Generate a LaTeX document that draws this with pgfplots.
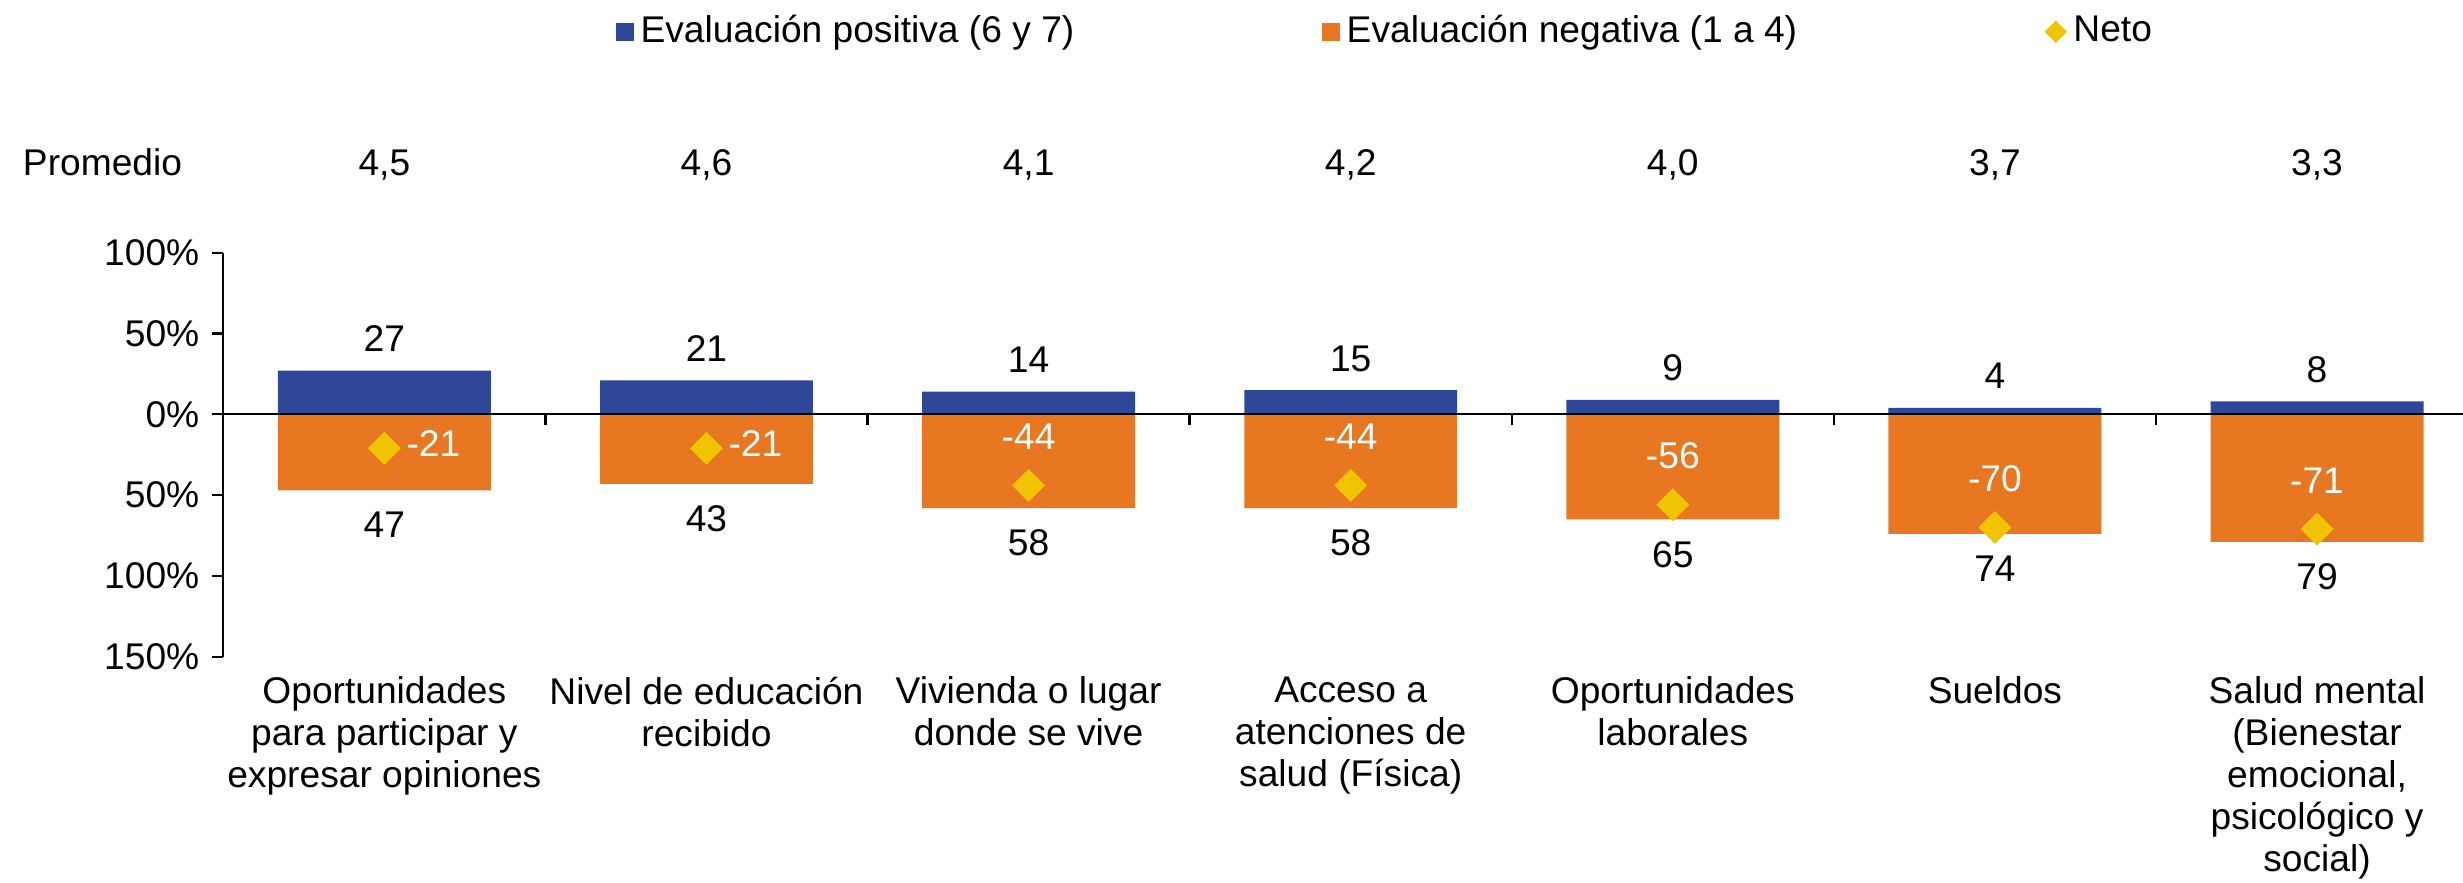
\documentclass[border=0pt]{standalone}
\usepackage{fontspec}
\setmainfont{Liberation Sans}
\usepackage{pgfplots}
\usepackage{pgfplotstable}
\pgfplotsset{compat=1.18}

\definecolor{posblue}{RGB}{47,71,153}
\definecolor{negorange}{RGB}{232,119,34}
\definecolor{netoyellow}{RGB}{240,196,0}

% category, positive share, negative share, net, offsets of the net label
\pgfplotstableread{
x pos neg neto lx ly
0 27 47 -21 14.7 1.5
1 21 43 -21 14.7 1.5
2 14 58 -44 0 14.6
3 15 58 -44 0 14.6
4 9 65 -56 0 14.6
5 4 74 -70 0 14.6
6 8 79 -71 0 14.6
}\datos

\begin{document}
\fontsize{11.15}{12.6}\selectfont
\begin{tikzpicture}
\path[use as bounding box] (0pt,0pt) rectangle (738.9pt,264.9pt);
\begin{axis}[
    at={(66.99pt,67.89pt)}, anchor=south west,
    scale only axis,
    width=671.9pt, height=121.2pt,
    xmin=-0.5, xmax=6.453,
    ymin=-150, ymax=100,
    axis x line=middle, axis y line=left,
    axis line style={-, line width=0.7pt},
    axis on top,
    xtick={-0.5,0.5,...,5.5}, xticklabels={,,,,,,,},
    ytick={-150,-100,-50,0,50,100},
    yticklabels={150\%,100\%,50\%,0\%,50\%,100\%},
    tick align=outside, major tick length=3.3pt,
    tick style={black, line width=0.7pt},
    /pgf/number format/assume math mode=true,
    clip=false,
    legend columns=-1,
    legend style={at={(0.175,1.547)}, anchor=west, draw=none, fill=none, inner sep=0pt,
      /tikz/every even column/.append style={column sep=72.3pt}},
]
% positive evaluation
\addplot[ybar, bar width=0.661, fill=posblue, draw=none,
    nodes near coords, nodes near coords align={anchor=base},
    every node near coord/.append style={black, inner sep=0pt, yshift=5.7pt},
    legend image code/.code={\fill[posblue] (0pt,-2.7pt) rectangle (5.4pt,2.7pt);}]
    table[x=x, y=pos] {\datos};
\addlegendentry{Evaluación positiva (6 y 7)}
% negative evaluation
\addplot[ybar, bar width=0.661, fill=negorange, draw=none,
    point meta=explicit,
    nodes near coords, nodes near coords align={anchor=base},
    every node near coord/.append style={black, inner sep=0pt, yshift=-14.3pt},
    legend image code/.code={\fill[negorange] (0pt,-2.7pt) rectangle (5.4pt,2.7pt);}]
    table[x=x, y expr=-\thisrow{neg}, meta=neg] {\datos};
\addlegendentry{Evaluación negativa (1 a 4)\hspace{2.3pt}}
% net
\addplot[only marks, mark=square*, mark size=3.29pt, color=netoyellow,
    mark options={rotate=45, draw=none, fill=netoyellow},
    visualization depends on={\thisrow{lx} \as \lx},
    visualization depends on={\thisrow{ly} \as \ly},
    nodes near coords, nodes near coords align={anchor=center},
    every node near coord/.append style={white, inner sep=0pt, xshift=\lx pt, yshift=\ly pt},
    legend image code/.code={\fill[netoyellow] (3.1pt,-3.1pt) -- (6.2pt,0pt) -- (3.1pt,3.1pt) -- (0pt,0pt) -- cycle;}]
    table[x=x, y=neto] {\datos};
\addlegendentry{Neto}

% average row
\node[anchor=base west, inner sep=0pt] at (axis cs:-1.124,147.5) {Promedio};
\node[anchor=base, inner sep=0pt] at (axis cs:0,147.5) {4,5};
\node[anchor=base, inner sep=0pt] at (axis cs:1,147.5) {4,6};
\node[anchor=base, inner sep=0pt] at (axis cs:2,147.5) {4,1};
\node[anchor=base, inner sep=0pt] at (axis cs:3,147.5) {4,2};
\node[anchor=base, inner sep=0pt] at (axis cs:4,147.5) {4,0};
\node[anchor=base, inner sep=0pt] at (axis cs:5,147.5) {3,7};
\node[anchor=base, inner sep=0pt] at (axis cs:6,147.5) {3,3};

% category names
\node[anchor=north, align=center, inner sep=0pt] at (axis cs:0,-162) {Oportunidades\\para participar y\\expresar opiniones};
\node[anchor=north, align=center, inner sep=0pt] at (axis cs:1,-162) {Nivel de educación\\recibido};
\node[anchor=north, align=center, inner sep=0pt] at (axis cs:2,-162) {Vivienda o lugar\\donde se vive};
\node[anchor=north, align=center, inner sep=0pt] at (axis cs:3,-162) {Acceso a\\atenciones de\\salud (Física)};
\node[anchor=north, align=center, inner sep=0pt] at (axis cs:4,-162) {Oportunidades\\laborales};
\node[anchor=north, align=center, inner sep=0pt] at (axis cs:5,-162) {Sueldos};
\node[anchor=north, align=center, inner sep=0pt] at (axis cs:6,-162) {Salud mental\\(Bienestar\\emocional,\\psicológico y\\social)};
\end{axis}
\end{tikzpicture}
\end{document}
